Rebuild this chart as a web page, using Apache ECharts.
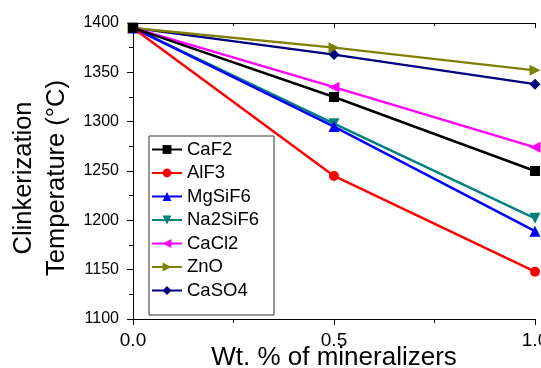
<!DOCTYPE html>
<html>
<head>
<meta charset="utf-8">
<script src="https://cdn.jsdelivr.net/npm/echarts@6/dist/echarts.min.js"></script>
<style>
  html, body { margin: 0; padding: 0; background: #fff; }
  #chart { width: 541px; height: 368px; }
</style>
</head>
<body>
<div id="chart"></div>
<script>
// x positions (wt. %)
const wt = [0.0, 0.5, 1.0];

// clinkerization temperature per mineralizer
const caF2 = [1395, 1325, 1250];
const alF3 = [1395, 1245, 1148];
const mgSiF6 = [1395, 1295, 1189];
const na2SiF6 = [1395, 1298, 1202];
const caCl2 = [1395, 1335, 1274];
const znO = [1395, 1375, 1352];
const caSO4 = [1395, 1368, 1338];

const names = ['CaF2', 'AlF3', 'MgSiF6', 'Na2SiF6', 'CaCl2', 'ZnO', 'CaSO4'];
const values = [caF2, alF3, mgSiF6, na2SiF6, caCl2, znO, caSO4];
const colors = ['#000000', '#ff0000', '#0000ff', '#008080', '#ff00ff', '#808000', '#000080'];
const symbols = ['rect', 'circle', 'triangle', 'triangle', 'triangle', 'triangle', 'diamond'];
const rotates = [0, 0, 0, 180, 90, -90, 0];
const sizes = [10, 10, 11, 11, 11, 11, 11];

const font = '"Liberation Sans", Arial, sans-serif';

const series = names.map((n, i) => ({
  name: n,
  type: 'line',
  data: wt.map((x, j) => [x, values[i][j]]),
  symbol: symbols[i],
  symbolRotate: rotates[i],
  symbolSize: sizes[i],
  color: colors[i],
  lineStyle: { width: 2.4 },
  z: 10 - i
}));

const chart = echarts.init(document.getElementById('chart'));
chart.setOption({
  animation: false,
  grid: { left: 133, right: 6, top: 23, bottom: 49, outerBoundsMode: 'none', containLabel: false },
  legend: {
    orient: 'vertical',
    left: 149, top: 136,
    padding: [4, 15, 15, 2],
    borderColor: '#333', borderWidth: 1,
    itemWidth: 30, itemHeight: 11,
    itemGap: 4.5,
    textStyle: { fontFamily: font, fontSize: 18.5, color: '#000' },
    data: names
  },
  xAxis: [{
    type: 'value', min: 0, max: 1, interval: 0.5,
    name: 'Wt. % of mineralizers',
    nameLocation: 'middle', nameGap: 26, nameMoveOverlap: false,
    nameTextStyle: { fontFamily: font, fontSize: 26, color: '#000' },
    axisLine: { lineStyle: { color: '#000', width: 1 } },
    axisTick: { length: 6, lineStyle: { color: '#000' } },
    minorTick: { show: true, splitNumber: 2, length: 4, lineStyle: { color: '#000' } },
    axisLabel: { fontFamily: font, fontSize: 19, color: '#000', formatter: v => v.toFixed(1), margin: 12 },
    splitLine: { show: false }
  }, {
    type: 'value', min: 0, max: 1, interval: 0.5, position: 'top',
    axisLine: { show: true, lineStyle: { color: '#000', width: 1 } },
    axisTick: { inside: true, length: 5, lineStyle: { color: '#000' } },
    minorTick: { show: true, splitNumber: 2, length: 3, lineStyle: { color: '#000' } },
    axisLabel: { show: false },
    splitLine: { show: false }
  }],
  yAxis: [{
    type: 'value', min: 1100, max: 1400, interval: 50,
    name: 'Clinkerization\nTemperature (°C)',
    nameLocation: 'middle', nameGap: 60, nameRotate: 90, nameMoveOverlap: false,
    nameTextStyle: { fontFamily: font, fontSize: 25.5, color: '#000', lineHeight: 33, align: 'center', padding: [0, 14, 0, 0] },
    axisLine: { show: true, lineStyle: { color: '#000', width: 1 } },
    axisTick: { length: 6, lineStyle: { color: '#000' } },
    minorTick: { show: true, splitNumber: 2, length: 4, lineStyle: { color: '#000' } },
    axisLabel: { fontFamily: font, fontSize: 16, color: '#000', margin: 14, formatter: v => String(v) },
    splitLine: { show: false }
  }, {
    type: 'value', min: 1100, max: 1400, interval: 50, position: 'right',
    axisLine: { show: true, lineStyle: { color: '#000', width: 1 } },
    axisTick: { inside: true, length: 5, lineStyle: { color: '#000' } },
    minorTick: { show: true, splitNumber: 2, length: 3, lineStyle: { color: '#000' } },
    axisLabel: { show: false },
    splitLine: { show: false }
  }],
  series: series
});
</script>
</body>
</html>
